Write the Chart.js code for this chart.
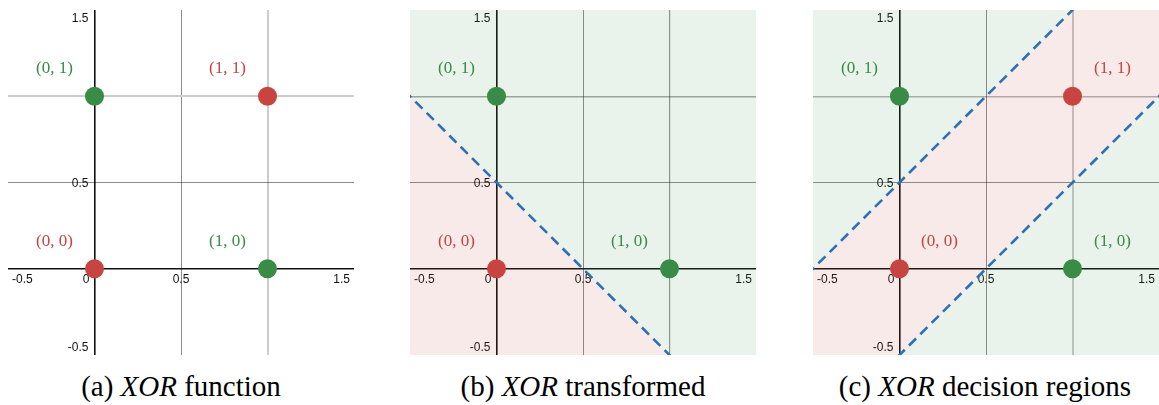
<!DOCTYPE html>
<html><head><meta charset="utf-8">
<script src="https://cdn.jsdelivr.net/npm/chart.js@4.4.1/dist/chart.umd.min.js"></script>
<style>
html,body{margin:0;padding:0;background:#fff;width:1159px;height:405px;overflow:hidden;}
.panel{position:absolute;top:10px;width:346px;height:345px;}
.cap{position:absolute;top:372px;width:400px;text-align:center;font-family:"Liberation Serif","Times New Roman",serif;font-size:29px;line-height:29px;color:#000;white-space:nowrap;}
</style></head><body>
<div class="panel" style="left:8px"><canvas id="ca" width="346" height="345"></canvas></div>
<div class="panel" style="left:410px"><canvas id="cb" width="346" height="345"></canvas></div>
<div class="panel" style="left:813px"><canvas id="cc" width="346" height="345"></canvas></div>
<div class="cap" style="left:-19px">(a) <i>XOR</i> function</div>
<div class="cap" style="left:383px">(b) <i>XOR</i> transformed</div>
<div class="cap" style="left:785px">(c) <i>XOR</i> decision regions</div>
<script>
// ---- data ----
const pointX = [0, 1, 0, 1];
const pointY = [0, 0, 1, 1];
const pointLabels = ['(0, 0)', '(1, 0)', '(0, 1)', '(1, 1)'];
const pointClass = ['red', 'green', 'green', 'red'];
const tickValues = [-0.5, 0, 0.5, 1, 1.5];
const tickLabels = ['-0.5', '0', '0.5', '', '1.5'];   // the "1" labels sit hidden under the dots
// which points appear in each panel, and on which side their label sits (-1 left, +1 right)
const pointsA = [0, 1, 2, 3];
const pointsB = [0, 1, 2];
const pointsC = [0, 1, 2, 3];
const labelSideA = [-1, -1, -1, -1];
const labelSideB = [-1, -1, -1, -1];
const labelSideC = [1, 1, -1, 1];
// panel (b) boundary: x + y = 0.5
const lineBX = [-0.6, 1.6];
const lineBY = [1.1, -1.1];
// panel (c) boundaries: y = x + 0.5 and y = x - 0.5
const lineC1X = [-0.6, 1.6];
const lineC1Y = [-0.1, 2.1];
const lineC2X = [-0.6, 1.6];
const lineC2Y = [-1.1, 1.1];

// ---- styles ----
const RED = '#c74440', GREEN = '#388c46', BLUE = '#2d70b3';
const RED_BG = 'rgba(199,68,64,0.11)', GREEN_BG = 'rgba(56,140,70,0.11)';
const colorOf = c => c === 'red' ? RED : GREEN;
const near = (a, b) => Math.abs(a - b) < 1e-6;

function toXY(xs, ys) { return xs.map((x, i) => ({x: x, y: ys[i]})); }

function pointsDataset(idx) {
  return {
    type: 'line', showLine: false, order: 0,
    data: idx.map(i => ({x: pointX[i], y: pointY[i]})),
    pointRadius: 9.5, pointHoverRadius: 9.5, pointBorderWidth: 0,
    pointBackgroundColor: idx.map(i => colorOf(pointClass[i])),
    pointBorderColor: idx.map(i => colorOf(pointClass[i])),
    clip: false
  };
}
function dashed(xs, ys) {
  return {type: 'line', order: 1, data: toXY(xs, ys), borderColor: BLUE, borderWidth: 2.6,
    borderDash: [10, 6], pointRadius: 0, fill: false, tension: 0};
}
function filled(xs, ys, fill, color) {
  return {type: 'line', order: 3, data: toXY(xs, ys), borderWidth: 0, borderColor: 'transparent',
    backgroundColor: color, pointRadius: 0, fill: fill, tension: 0};
}

function gridFor(style1x, style1y) {
  return function(axis) {
    const s1 = axis === 'x' ? style1x : style1y;
    return {
      color: c => {
        const v = c.tick.value;
        if (near(v, 0)) return '#111';
        if (near(v, 0.5)) return 'rgba(0,0,0,0.45)';
        if (near(v, 1)) return s1[0];
        return 'rgba(0,0,0,0)';
      },
      lineWidth: c => {
        const v = c.tick.value;
        if (near(v, 0)) return 1.6;
        if (near(v, 1)) return s1[1];
        return 1;
      },
      drawTicks: false
    };
  };
}

const fmtLabel = v => { const i = tickValues.findIndex(t => near(t, v)); return i >= 0 ? tickLabels[i] : ''; };

const xorText = {
  id: 'xorText',
  beforeDatasetsDraw(chart, args, opts) {
    const ctx = chart.ctx, a = chart.chartArea, xs = chart.scales.x, ys = chart.scales.y;
    const ax = xs.getPixelForValue(0), ay = ys.getPixelForValue(0);
    ctx.save();
    ctx.font = '12px "Liberation Sans", Arial, sans-serif';
    ctx.fillStyle = '#111';
    ctx.textBaseline = 'alphabetic';
    ctx.textAlign = 'left';
    xs.ticks.forEach(t => {
      if (near(t.value, 0)) return;
      const lab = fmtLabel(t.value);
      if (!lab) return;
      const px = xs.getPixelForValue(t.value);
      const w = ctx.measureText(lab).width;
      let left = px - w / 2;
      if (left < a.left + 4) left = a.left + 4;
      if (left + w > a.right - 4) left = a.right - 4 - w;
      ctx.fillText(lab, left, ay + 14);
    });
    ctx.textAlign = 'right';
    ys.ticks.forEach(t => {
      if (near(t.value, 0)) return;
      const lab = fmtLabel(t.value);
      if (!lab) return;
      const py = ys.getPixelForValue(t.value);
      let base = py + 4;
      if (base - 9 < a.top + 3) base = a.top + 12;
      if (base > a.bottom - 4) base = a.bottom - 4;
      ctx.fillText(lab, ax - 6, base);
    });
    ctx.fillText(fmtLabel(0), ax - 5, ay + 14);
    ctx.restore();
  },
  afterDatasetsDraw(chart, args, opts) {
    const ctx = chart.ctx, xs = chart.scales.x, ys = chart.scales.y;
    ctx.save();
    ctx.font = '17px "Liberation Serif", "Times New Roman", serif';
    ctx.textAlign = 'center';
    ctx.textBaseline = 'alphabetic';
    opts.points.forEach((i, k) => {
      const px = xs.getPixelForValue(pointX[i]);
      const py = ys.getPixelForValue(pointY[i]);
      ctx.fillStyle = colorOf(pointClass[i]);
      ctx.fillText(pointLabels[i], px + opts.sides[k] * 40, py - 23);
    });
    ctx.restore();
  }
};

function makeChart(id, datasets, points, sides, grid) {
  const scaleBase = axis => ({
    type: 'linear', min: -0.5, max: 1.5,
    ticks: {display: false, stepSize: 0.5, includeBounds: false},
    border: {display: false},
    grid: grid(axis)
  });
  return new Chart(document.getElementById(id), {
    type: 'line',
    data: {datasets: datasets},
    options: {
      responsive: false, animation: false, events: [],
      layout: {padding: 0, autoPadding: false},
      scales: {x: scaleBase('x'), y: scaleBase('y')},
      plugins: {legend: {display: false}, tooltip: {enabled: false},
        xorText: {points: points, sides: sides}}
    },
    plugins: [xorText]
  });
}

// (a)
makeChart('ca', [pointsDataset(pointsA)], pointsA, labelSideA,
  gridFor(['#cccccc', 2], ['#cccccc', 2]));

// (b)
makeChart('cb', [
  pointsDataset(pointsB),
  dashed(lineBX, lineBY),
  filled(lineBX, lineBY, 'start', RED_BG),
  filled(lineBX, lineBY, 'end', GREEN_BG)
], pointsB, labelSideB, gridFor(['rgba(0,0,0,0.42)', 1.2], ['rgba(0,0,0,0.35)', 1.5]));

// (c)
makeChart('cc', [
  pointsDataset(pointsC),
  dashed(lineC1X, lineC1Y),
  dashed(lineC2X, lineC2Y),
  filled(lineC1X, lineC1Y, 'end', GREEN_BG),
  filled(lineC2X, lineC2Y, 'start', GREEN_BG),
  filled(lineC1X, lineC1Y, 4, RED_BG)
], pointsC, labelSideC, gridFor(['rgba(0,0,0,0.22)', 2], ['rgba(0,0,0,0.3)', 1.5]));
</script>
</body></html>
